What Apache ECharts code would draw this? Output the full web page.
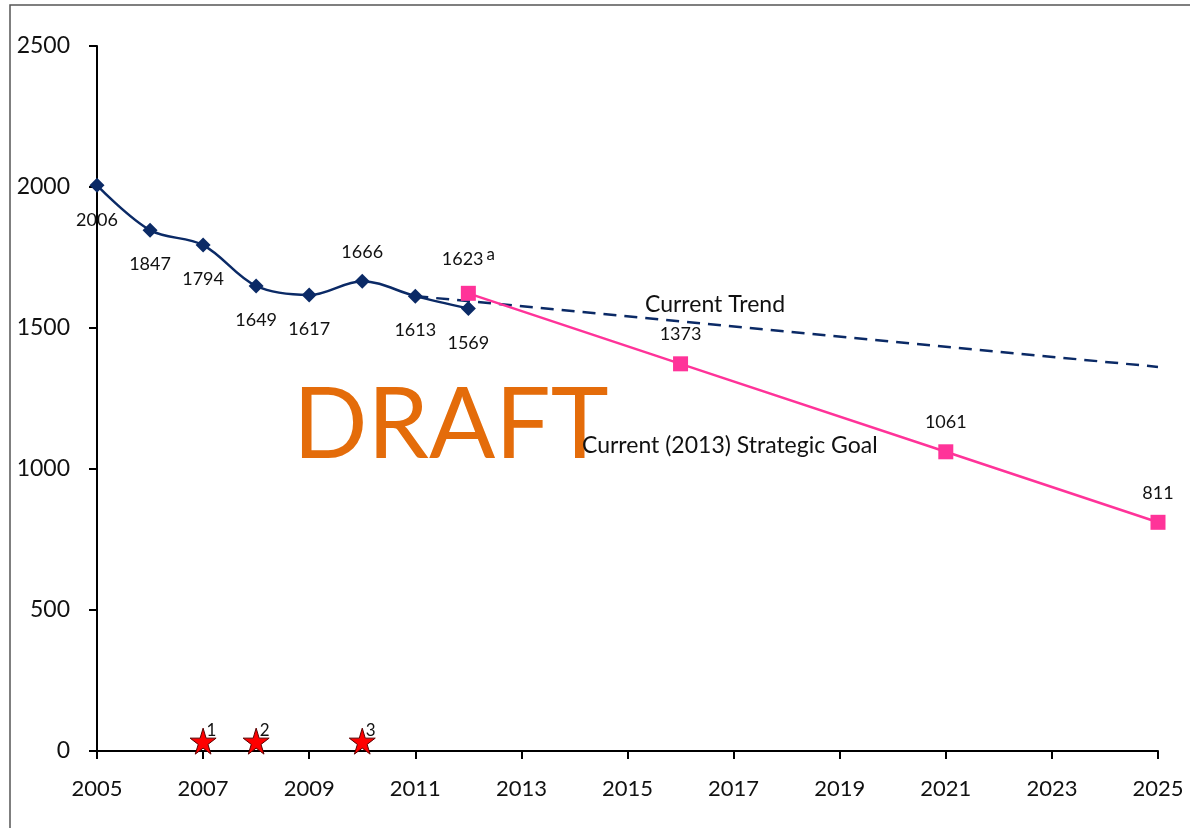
<!DOCTYPE html>
<html><head><meta charset="utf-8">
<script src="https://cdn.jsdelivr.net/npm/echarts@6/dist/echarts.min.js"></script>
<style>html,body{margin:0;padding:0;background:#fff}#c{width:1190px;height:828px}</style>
</head><body><div id="c"></div>
<script>
const years = ['2005','2006','2007','2008','2009','2010','2011','2012','2013','2014','2015','2016','2017','2018','2019','2020','2021','2022','2023','2024','2025'];
const actualYears = ['2005','2006','2007','2008','2009','2010','2011','2012'];
const actualValues = [2006,1847,1794,1649,1617,1666,1613,1569];
const goalYears = ['2012','2016','2021','2025'];
const goalValues = [1623,1373,1061,811];
const trendYears = ['2011','2025'];
const trendValues = [1613,1362];
const starYears = ['2007','2008','2010'];
const starValues = [35,35,35];
const starNotes = ['1','2','3'];
const yTicks = [0,500,1000,1500,2000,2500];

const FONT = 'Lato';
const above = {'2010': true};

const actualData = actualYears.map((y,i)=>({
  value:[y, actualValues[i]],
  label:{position: above[y] ? 'top' : 'bottom', distance: above[y] ? 13 : 18}
}));
const goalData = goalYears.map((y,i)=>({value:[y, goalValues[i]]}));
const starPath = 'path://M50,0 L61,35 L98,35 L68,57 L79,91 L50,70 L21,91 L32,57 L2,35 L39,35 Z';

const chart = echarts.init(document.getElementById('c'));
chart.setOption({
  animation:false,
  backgroundColor:'#fff',
  textStyle:{fontFamily:FONT},
  grid:{left:97,right:32,top:46,bottom:77},
  xAxis:{
    type:'category', data:years, boundaryGap:false,
    axisLine:{lineStyle:{color:'#000',width:2}},
    axisTick:{interval:1,length:8,lineStyle:{color:'#000',width:2}},
    axisLabel:{interval:1,color:'#111',fontSize:22,margin:27,fontFamily:FONT},
    splitLine:{show:false}
  },
  yAxis:{
    type:'value', min:yTicks[0], max:yTicks[yTicks.length-1], interval:500,
    axisLine:{show:true,lineStyle:{color:'#000',width:2}},
    axisTick:{show:true,length:8,lineStyle:{color:'#000',width:2}},
    axisLabel:{color:'#111',fontSize:23,margin:27,fontFamily:FONT,formatter:v=>String(v)},
    splitLine:{show:false}
  },
  graphic:[
    {type:'rect',shape:{x:10,y:5,width:1200,height:900},style:{fill:'none',stroke:'#555',lineWidth:1.5},z:-1},
    {type:'text',left:293,top:377,style:{text:'DRAFT',fill:'#E46C0A',font:'98px '+FONT}},
    {type:'text',left:645,top:293,style:{text:'Current Trend',fill:'#111',font:'23px '+FONT}},
    {type:'text',left:582,top:434,style:{text:'Current (2013) Strategic Goal',fill:'#111',font:'23px '+FONT}}
  ],
  series:[
    {
      name:'Trend', type:'line', data:trendYears.map((y,i)=>[y,trendValues[i]]),
      symbol:'none', lineStyle:{color:'#0B2A66',width:2.5,type:[13,8]}, z:2
    },
    {
      name:'Actual', type:'line', data:actualData, smooth:0.35,
      symbol:'diamond', symbolSize:15,
      itemStyle:{color:'#0B2A66'}, lineStyle:{color:'#0B2A66',width:2.5},
      label:{show:true,color:'#111',fontSize:18,fontFamily:FONT,formatter:p=>p.value[1]}, z:3
    },
    {
      name:'Goal', type:'line', data:goalData,
      symbol:'rect', symbolSize:15,
      itemStyle:{color:'#FF3399'}, lineStyle:{color:'#FF3399',width:2.5},
      label:{show:true,position:'top',distance:13,color:'#111',fontSize:18,fontFamily:FONT,
        formatter:p=> p.dataIndex===0 ? '{v|'+p.value[1]+'}{s|a}' : String(p.value[1]),
        rich:{v:{fontSize:18,fontFamily:FONT,color:'#111'},s:{fontSize:17,fontFamily:FONT,color:'#111',verticalAlign:'top',padding:[0,0,10,3]}}
      }, z:4
    },
    {
      name:'Events', type:'scatter', data:starYears.map((y,i)=>({value:[y,starValues[i]],note:starNotes[i]})),
      symbol:starPath, symbolSize:26,
      itemStyle:{color:'#FF0000',opacity:1,borderColor:'#5a0000',borderWidth:1},
      label:{show:true,position:'right',offset:[-10,-11],distance:0,color:'#111',fontSize:17,fontFamily:FONT,formatter:p=>p.data.note}, z:5
    }
  ]
});
</script></body></html>
